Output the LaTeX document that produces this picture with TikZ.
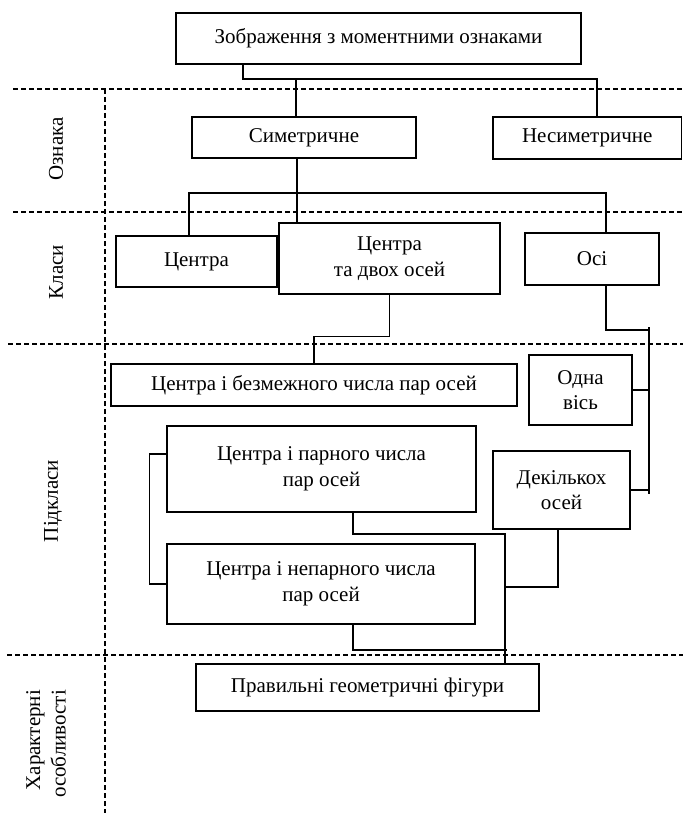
\documentclass[tikz,border=0pt]{standalone}
\usepackage{fontspec}
\setmainfont{Liberation Serif}

\begin{document}
\begin{tikzpicture}[
	x=1pt, y=-1pt,
	font=\fontsize{21}{25.5}\selectfont,
	% Styles for the boxes, the links and the zone borders
	block/.style={draw, line width=1.5pt, align=center, inner sep=0pt},
	link/.style={line width=1.4pt},
	zone/.style={line width=1.2pt, dash pattern=on 5pt off 3pt},
	axislabel/.style={rotate=90, align=right}
	]
	\useasboundingbox (0,0) rectangle (683,818);
	
	% ==========================================
	% 1. ZONE BORDERS AND ROW LABELS
	% ==========================================
	\draw[zone] (13,89) -- (683,89);
	\draw[zone] (13,212) -- (683,212);
	\draw[zone] (8,344) -- (683,344);
	\draw[zone] (7,655) -- (683,655);
	\draw[zone] (105,89) -- (105,813);
	
	\node[axislabel] (lsign) at (56,149) {Ознака};
	\node[axislabel] (lclass) at (56,272) {Класи};
	\node[axislabel] (lsub) at (53,501) {Підкласи};
	\node[axislabel] (lfeat) at (46,744) {Характерні\\особливості};
	
	% ==========================================
	% 2. BOXES
	% ==========================================
	\node[block, minimum width=405pt, minimum height=51pt] (image) at (378.5,38.5) {Зображення з моментними ознаками};
	
	\node[block, minimum width=224pt, minimum height=41pt] (sym) at (304,137.5) {Симетричне};
	\node[block, minimum width=188.5pt, minimum height=42pt] (nonsym) at (587.25,138) {Несиметричне};
	
	\node[block, minimum width=161pt, minimum height=51pt] (cen) at (196.5,261.5) {Центра};
	\node[block, minimum width=221pt, minimum height=71pt] (cen2) at (389.5,258.5) {Центра\\та двох осей};
	\node[block, minimum width=134pt, minimum height=52pt] (osi) at (592,259) {Осі};
	
	\node[block, minimum width=406pt, minimum height=42pt] (inf) at (314,385) {Центра і безмежного числа пар осей};
	\node[block, minimum width=103pt, minimum height=70pt] (one) at (580.5,390) {Одна\\вісь};
	\node[block, minimum width=309pt, minimum height=86pt] (even) at (321.5,469) {Центра і парного числа\\пар осей};
	\node[block, minimum width=137pt, minimum height=78pt] (several) at (561.5,490) {Декількох\\осей};
	\node[block, minimum width=308pt, minimum height=80pt] (odd) at (321,584) {Центра і непарного числа\\пар осей};
	
	\node[block, minimum width=343pt, minimum height=47pt] (regular) at (367.5,687.5) {Правильні геометричні фігури};
	
	% ==========================================
	% 3. LINKS
	% ==========================================
	% Image -> sign
	\coordinate (bus1) at (243,79);
	\draw[link] (image.south -| bus1) -- (bus1) -| ([xshift=9.75pt]nonsym.north);
	\draw[link] ([xshift=-8pt]sym.north) -- ([xshift=-8pt]sym.north |- bus1);
	
	% Symmetric -> classes
	\coordinate (bus2) at (189,193);
	\draw[link] ([xshift=-7pt]sym.south) -- ([xshift=-7pt]sym.south |- cen2.north);
	\draw[link] (bus2 |- cen.north) -- (bus2) -| ([xshift=14pt]osi.north);
	
	% Classes -> subclasses
	\draw[link] (cen2.south) -- ++(0,42) -| (inf.north);
	
	\coordinate (rail) at (649,327);
	\coordinate (railend) at (649,494);
	\draw[link] ([xshift=14pt]osi.south) |- ([yshift=-3pt]rail);
	\draw[link] (rail) -- (railend);
	\draw[link] (one.east) -- (one.east -| rail);
	\draw[link] (several.east) -- (several.east -| rail);
	
	\draw[link] ([yshift=15pt]even.west) -- ++(-17,0) |- (odd.west);
	
	% Subclasses -> regular figures
	\coordinate (spine) at (505,534);
	\coordinate (tap1) at (505,587);
	\coordinate (tap2) at (507,650);
	\draw[link] ([xshift=31.5pt]even.south) |- (spine) -- (spine |- regular.north);
	\draw[link] ([xshift=-3.5pt]several.south) |- (tap1);
	\draw[link] ([xshift=32pt]odd.south) |- (tap2);
\end{tikzpicture}
\end{document}
